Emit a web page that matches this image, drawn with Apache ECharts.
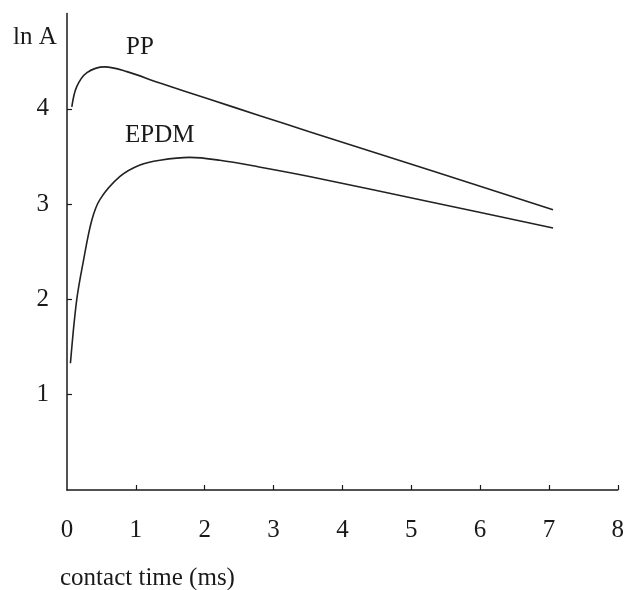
<!DOCTYPE html>
<html>
<head>
<meta charset="utf-8">
<script src="https://cdn.jsdelivr.net/npm/echarts@6/dist/echarts.min.js"></script>
<style>
html,body{margin:0;padding:0;background:#fff;}
#c{width:627px;height:590px;}
</style>
</head>
<body>
<div id="c"></div>
<script>
var xTicks = [0, 1, 2, 3, 4, 5, 6, 7, 8];
var yTicks = [1, 2, 3, 4];
var ppData = [[0.07,4.02],[0.14,4.23],[0.29,4.38],[0.55,4.44],[0.87,4.39],[1.35,4.27],[2.07,4.10],[2.79,3.93],[3.52,3.76],[5.3,3.35],[7.06,2.94]];
var epdmData = [[0.05,1.33],[0.14,1.99],[0.24,2.41],[0.36,2.83],[0.48,3.05],[0.77,3.29],[1.06,3.41],[1.35,3.46],[1.78,3.49],[2.22,3.46],[2.79,3.39],[3.52,3.29],[5.3,3.02],[7.06,2.75]];
var seriesNames = ['PP', 'EPDM'];

var font = '"Liberation Serif", "Times New Roman", serif';
var ink = '#1a1a1a';
var chart = echarts.init(document.getElementById('c'), null, {renderer: 'canvas'});
chart.setOption({
  animation: false,
  backgroundColor: '#fff',
  grid: {left: 67, right: 7, top: 13.5, bottom: 100},
  xAxis: {
    type: 'value', min: 0, max: 8, interval: 1,
    axisLine: {show: true, onZero: false, lineStyle: {color: ink, width: 1.5}},
    axisTick: {show: true, inside: true, length: 5, lineStyle: {color: ink, width: 1.2}, customValues: xTicks.slice(1)},
    axisLabel: {color: ink, fontFamily: font, fontSize: 25, margin: 28, customValues: xTicks},
    splitLine: {show: false}
  },
  yAxis: {
    type: 'value', min: 0, max: 5, interval: 1,
    axisLine: {show: true, lineStyle: {color: ink, width: 1.5}},
    axisTick: {show: true, inside: true, length: 5, lineStyle: {color: ink, width: 1.2}, customValues: yTicks},
    axisLabel: {color: ink, fontFamily: font, fontSize: 25, margin: 18, customValues: yTicks},
    splitLine: {show: false}
  },
  series: [
    {name: seriesNames[0], type: 'line', data: ppData, smooth: 0.35, showSymbol: false, lineStyle: {color: '#222', width: 1.6}},
    {name: seriesNames[1], type: 'line', data: epdmData, smooth: 0.35, showSymbol: false, lineStyle: {color: '#222', width: 1.6}}
  ],
  graphic: [
    {type: 'text', left: 13, top: 25, style: {text: 'ln A', font: '25px ' + font, fill: ink}},
    {type: 'text', left: 126, top: 35, style: {text: seriesNames[0], font: '25px ' + font, fill: ink}},
    {type: 'text', left: 125, top: 123, style: {text: seriesNames[1], font: '25px ' + font, fill: ink}},
    {type: 'text', left: 60, top: 566, style: {text: 'contact time (ms)', font: '25px ' + font, fill: ink}}
  ]
});
</script>
</body>
</html>
